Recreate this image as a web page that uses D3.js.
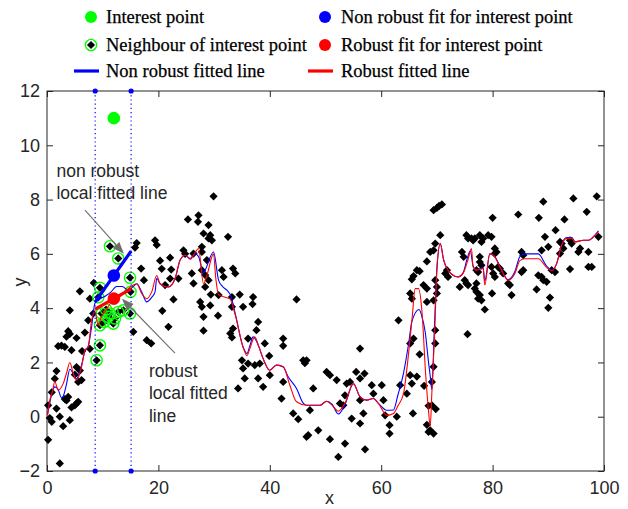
<!DOCTYPE html>
<html>
<head>
<meta charset="utf-8">
<script src="https://cdn.jsdelivr.net/npm/d3@7"></script>
<style>
  body { margin: 0; background: #fff; }
  svg { display: block; }
</style>
</head>
<body>
<div id="chart"></div>
<script>
// scatter data, [x, y]
var scatter = [
  [0.2,0.42],[0.2,-0.85],[0.5,-0.05],[0.85,0.9],[0.85,-0.19],[1.4,1.4],[1.7,1.68],[1.7,0.3],[2.0,2.6],[2.3,0.0],
  [2.3,-1.72],[2.6,2.62],[2.9,-0.35],[3.2,2.57],[3.2,0.65],[3.5,0.6],[3.5,2.95],[3.8,3.15],[3.8,0.73],[4.1,3.05],
  [4.1,3.92],[4.1,-0.13],[4.4,2.45],[4.4,0.34],[5.0,1.55],[5.0,0.42],[5.3,2.9],[5.3,1.83],[5.3,0.49],[5.6,1.28],
  [5.6,0.55],[5.9,4.62],[5.9,1.7],[6.2,1.35],[6.3,2.42],[6.8,3.1],[7.4,3.55],[7.7,2.5],[7.7,4.35],[8.3,3.8],[8.4,4.93],
  [15.5,3.13],[15.8,6.23],[16.1,6.4],[16.9,5.46],[17.4,5.03],[17.9,2.82],[18.7,2.7],[19.4,6.5],[19.7,6.33],[20.3,5.75],
  [20.6,5.45],[20.7,3.9],[21.2,4.85],[21.8,3.31],[22.1,5.86],[22.1,5.09],[22.3,5.42],[22.7,4.32],[23.6,5.09],[24.5,6.13],
  [24.8,6.0],[25.3,7.27],[26.0,5.28],[26.3,4.91],[26.3,6.01],[27.1,7.18],[27.2,7.42],[27.5,4.23],[27.8,4.05],[27.8,5.4],
  [27.8,6.26],[27.8,6.07],[28.1,3.17],[28.1,6.75],[28.1,3.68],[28.4,5.22],[28.4,4.78],[28.7,5.77],[29.0,7.06],[29.0,6.57],
  [29.0,5.03],[29.4,4.5],[29.3,6.69],[29.3,4.1],[29.6,6.5],[29.9,8.12],[30.7,3.72],[30.8,4.48],[31.4,5.4],[31.7,5.15],
  [32.5,6.63],[32.9,3.07],[33.2,2.92],[33.2,4.41],[33.2,4.05],[33.4,3.25],[33.4,5.46],[33.8,5.28],
  [34.3,1.04],[34.6,4.5],[35.0,2.08],[35.2,1.78],[35.2,4.05],[35.5,1.41],[36.1,1.96],[36.1,2.88],[36.9,4.15],[37.0,4.41],
  [37.3,1.9],[37.6,3.19],[37.9,3.49],[37.9,1.41],[38.2,1.96],[38.8,1.1],[39.1,2.7],[39.9,2.24],[40.0,1.53],[42.1,0.67],
  [42.4,1.28],[42.4,2.88],[42.4,2.61],[44.2,0.12],[44.8,4.32],[45.1,-0.09],[46.0,2.08],[46.3,1.97],[46.6,2.08],[46.6,-0.74],
  [46.9,-0.68],
  [47.2,0.24],[47.8,1.04],[48.7,-0.5],[50.2,1.65],[50.8,1.53],[50.8,-0.83],[52.0,1.35],[52.3,-1.48],[52.6,0.49],[53.2,0.42],
  [53.5,0.79],[53.5,-0.99],[53.8,1.22],[54.4,1.28],[54.7,-0.07],[55.5,1.65],[56.2,2.51],[56.2,1.41],[56.2,0.61],[56.2,-0.25],
  [56.8,0.12],[57.0,1.59],[57.1,-1.2],[58.3,1.16],[58.6,0.85],[60.1,1.16],[60.4,0.61],[60.7,0.05],[61.5,-0.31],[61.5,-0.62],
  [62.8,0.0],
  [63.1,3.55],[63.4,1.16],[64.6,0.85],[65.2,1.53],[65.2,2.7],[65.2,4.54],[65.5,4.35],[65.5,5.06],[65.5,1.22],[65.7,0.12],
  [65.8,2.88],[65.8,5.18],[66.4,5.4],[66.4,1.48],[66.9,5.36],[66.9,2.3],[67.6,4.85],[67.7,1.14],[68.2,5.72],[68.2,4.72],
  [68.2,4.23],[68.2,-0.3],[68.5,0.4],[68.5,-0.56],[68.8,6.07],[68.8,-0.5],[69.1,1.28],[69.1,0.42],[69.4,7.61],[69.4,6.13],
  [69.4,4.29],[69.4,-0.62],[69.4,1.84],[69.7,6.38],[69.7,5.03],[69.7,3.19],[69.7,2.7],[69.8,0.28],[70.0,7.69],[70.0,4.78],
  [70.0,4.54],[70.4,7.77],[70.6,6.69],[70.9,7.82],
  [71.5,5.28],[71.8,5.4],[72.0,5.15],[74.1,4.78],[74.5,6.07],[74.8,5.89],[75.0,5.03],[75.3,4.91],[75.3,6.69],[75.5,3.04],
  [75.6,6.57],[75.6,4.85],[76.2,6.57],[76.5,6.5],[76.8,6.57],[76.8,4.72],[77.1,5.4],[77.1,4.91],[77.1,4.6],[77.4,5.33],
  [77.4,4.35],[77.7,6.69],[77.7,5.89],[77.7,5.7],[77.7,4.48],[78.0,6.44],[78.0,5.58],[78.0,4.29],[78.3,6.57],[78.6,3.95],
  [79.2,6.69],[79.8,6.63],[79.8,5.52],[79.9,4.54],[80.0,7.33],[80.1,5.28],[80.4,6.2],[80.4,5.15],[80.4,6.01],[80.7,6.07],
  [81.0,5.52],[81.3,5.46],[81.9,5.28],[82.8,4.91],[83.1,4.85],[83.4,4.48],[84.6,7.45],[85.2,6.07],[85.5,5.95],[85.5,5.4],
  [85.2,5.33],[87.9,4.69],[88.2,5.21],[88.3,7.33],[88.8,6.13],[88.8,5.15],[89.1,7.92],[89.1,5.03],[89.4,6.63],[89.7,4.97],
  [90.0,6.26],[90.0,4.01],[90.3,4.39],[90.6,5.4],[91.2,5.33],[91.3,6.87],[92.1,6.44],[92.4,6.38],[92.7,6.2],[92.1,6.01],
  [92.9,7.27],[93.9,6.5],[93.9,5.44],[94.2,6.38],[94.5,8.04],[95.4,6.07],[95.7,6.2],[96.9,7.55],[97.2,6.07],[97.2,5.52],
  [97.8,5.52],[98.7,8.12],[99.0,6.63]
];

// points inside the local window (drawn with green rings)
var neighbours = [
  [8.9,2.08],[9.5,2.63],[9.5,3.37],[9.8,3.8],[9.5,4.75],[9.2,4.4],[10.3,3.5],[10.6,3.95],[11.0,3.68],[11.3,3.8],
  [11.9,3.43],[12.2,3.62],[12.8,3.86],[13.7,3.92],[14.9,3.8],[15.0,4.6],[14.9,5.12],[11.3,6.28],[12.8,5.83]
];

var interestPoint = [12.0, 11.0];
var windowEdges = [8.65, 15.1];
var nonRobustFitY = 5.2;
var robustFitY = 4.35;
var localNonRobustY = [4.23, 6.1];
var localRobustY = [3.96, 4.71];

var nonRobustLine = [
  [0.1,0.1],[0.5,0.5],[1.0,0.95],[1.4,1.1],[2.0,1.0],[2.6,0.7],[2.9,0.75],[3.5,1.2],[4.1,1.75],[4.7,1.6],
  [5.3,1.4],[6.2,1.9],[6.8,2.4],[7.4,2.6],[8.0,3.3],[8.6,4.18],[9.2,4.3],[10.5,4.45],[11.5,4.6],[12.5,4.8],
  [13.5,4.8],[14.6,4.66],[15.5,4.8],[16.1,4.9],[17.0,4.6],[17.9,4.23],[18.8,4.4],[19.4,4.6],[19.7,5.1],[20.3,4.9],
  [21.8,4.78],[23.0,5.09],[23.9,5.77],[24.8,5.95],[25.7,5.83],[26.6,6.0],[27.2,5.9],[28.1,5.3],[28.4,5.4],[29.9,6.07],
  [30.8,5.03],[31.5,4.8],[32.3,4.66],[33.0,4.45],[33.8,3.8],[35.2,2.57],[35.9,2.33],[36.4,2.6],[37.0,2.94],[38.0,2.6],
  [38.8,2.14],[40.0,1.71],[41.2,1.9],[42.4,1.83],[43.3,1.47],[44.8,1.04],[46.0,0.5],[46.6,0.42],[49.0,0.42],[50.2,0.57],
  [51.2,0.45],[52.3,0.1],[53.5,0.45],[55.0,1.22],[56.2,0.73],[57.4,0.61],[58.6,0.67],[59.5,0.49],[61.0,0.24],[62.2,0.25],
  [63.0,0.8],[64.0,1.6],[65.0,2.8],[65.5,3.5],[66.8,3.95],[67.3,3.7],[67.9,3.12],[68.5,2.0],[68.8,1.5],[69.1,1.0],
  [69.5,3.0],[70.0,5.4],[70.6,6.38],[71.2,5.8],[72.0,5.4],[73.8,5.15],[74.7,5.3],[75.4,5.8],[76.0,6.1],[76.5,5.55],
  [77.1,5.4],[78.3,5.5],[78.6,5.0],[79.5,6.0],[80.4,5.9],[81.3,5.55],[82.8,5.05],[84.0,5.35],[84.9,5.9],[85.8,6.0],
  [88.2,6.0],[89.7,5.55],[90.6,5.4],[91.5,5.64],[92.4,6.35],[93.3,6.6],[94.2,6.6],[94.8,6.45],[96.3,6.5],[97.2,6.5],
  [98.4,6.7],[99.0,6.85]
];

var robustLine = [
  [0.1,0.05],[0.5,0.6],[1.0,0.95],[1.4,1.3],[2.0,0.98],[2.9,1.22],[3.5,1.6],[4.1,2.0],[4.7,1.6],[5.3,1.35],
  [6.2,1.83],[6.8,2.45],[7.4,2.57],[8.0,3.55],[8.6,3.86],[9.2,3.37],[9.8,3.7],[10.5,3.9],[11.5,4.2],[12.5,4.3],
  [13.5,4.5],[14.5,4.7],[15.5,4.85],[16.1,4.9],[17.0,4.54],[17.9,4.35],[18.8,4.6],[19.7,5.2],[20.3,4.9],[21.8,4.78],
  [23.0,5.09],[23.9,5.77],[24.8,5.95],[25.7,5.8],[26.6,6.05],[27.2,6.2],[28.1,4.9],[28.7,5.2],[29.9,6.0],[30.3,5.1],
  [30.8,4.5],[32.0,4.4],[32.8,4.35],[33.8,3.74],[35.2,2.57],[35.9,2.25],[36.4,2.5],[37.3,2.94],[38.0,2.6],[38.8,2.14],
  [40.0,1.71],[41.2,1.9],[42.4,1.85],[43.6,1.16],[44.8,0.55],[46.6,0.42],[49.0,0.42],[50.2,0.57],[51.2,0.42],[52.3,0.2],
  [53.5,0.5],[55.0,1.22],[56.2,0.73],[57.4,0.61],[58.6,0.67],[59.5,0.49],[61.0,0.05],[62.2,0.12],[63.0,0.4],[64.0,0.85],
  [65.0,2.5],[65.6,3.74],[66.1,4.72],[66.7,4.72],[67.3,3.92],[68.0,1.5],[68.5,0.2],[68.8,-0.35],[69.1,0.9],[69.7,3.68],
  [70.0,5.52],[70.6,6.38],[71.2,5.77],[72.0,5.4],[73.8,5.15],[74.7,5.28],[75.6,5.8],[76.2,6.2],[76.5,5.52],[77.1,5.4],
  [78.3,5.46],[78.6,4.85],[79.5,6.01],[80.4,5.89],[81.3,5.52],[82.8,5.03],[84.0,5.28],[84.9,5.75],[85.8,5.82],[88.2,5.82],
  [89.7,5.5],[90.6,5.38],[91.5,5.64],[92.4,6.32],[93.3,6.57],[94.2,6.57],[94.8,6.44],[96.3,6.5],[97.2,6.5],[98.4,6.69],
  [99.0,6.81]
];

var xTicks = [0, 20, 40, 60, 80, 100];
var yTicks = [-2, 0, 2, 4, 6, 8, 10, 12];

var legendItems = [
  {label: 'Interest point', kind: 'dot', color: '#00ff00', col: 0, row: 0},
  {label: 'Non robust fit for interest point', kind: 'dot', color: '#0000ff', col: 1, row: 0},
  {label: 'Neighbour of interest point', kind: 'ring', color: '#00ff00', col: 0, row: 1},
  {label: 'Robust fit for interest point', kind: 'dot', color: '#ff0000', col: 1, row: 1},
  {label: 'Non robust fitted line', kind: 'line', color: '#0000ff', col: 0, row: 2},
  {label: 'Robust fitted line', kind: 'line', color: '#ff0000', col: 1, row: 2}
];

var W = 628, H = 509;
var axisColor = '#262626';
var tickFont = '"Liberation Sans", Arial, Helvetica, sans-serif';

var svg = d3.select('#chart').append('svg')
    .attr('width', W)
    .attr('height', H);

var x = d3.scaleLinear().domain([0, 100]).range([47, 604]);
var y = d3.scaleLinear().domain([-2, 12]).range([471, 91]);

// ---- axes (ticks inside, on all four sides)
function styleAxis(g, showText) {
    g.select('.domain').remove();
    g.selectAll('.tick line').attr('stroke', axisColor);
    g.selectAll('.tick text')
        .attr('fill', axisColor)
        .style('font-family', tickFont)
        .style('font-size', '18px');
    if (!showText) g.selectAll('.tick text').remove();
}

svg.append('g')
    .attr('transform', 'translate(0,' + y(-2) + ')')
    .call(d3.axisBottom(x).tickValues(xTicks).tickSize(-6).tickPadding(10))
    .call(styleAxis, true);
svg.append('g')
    .attr('transform', 'translate(0,' + y(12) + ')')
    .call(d3.axisTop(x).tickValues(xTicks).tickSize(-6))
    .call(styleAxis, false);
svg.append('g')
    .attr('transform', 'translate(' + x(0) + ',0)')
    .call(d3.axisLeft(y).tickValues(yTicks).tickSize(-6).tickPadding(7))
    .call(styleAxis, true);
svg.append('g')
    .attr('transform', 'translate(' + x(100) + ',0)')
    .call(d3.axisRight(y).tickValues(yTicks).tickSize(-6))
    .call(styleAxis, false);

svg.append('rect')
    .attr('x', x(0)).attr('y', y(12))
    .attr('width', x(100) - x(0)).attr('height', y(-2) - y(12))
    .attr('fill', 'none')
    .attr('stroke', axisColor)
    .attr('stroke-width', 1);

svg.append('text')
    .attr('x', (x(0) + x(100)) / 2 + 4).attr('y', 504)
    .attr('text-anchor', 'middle')
    .attr('fill', axisColor)
    .style('font-family', tickFont).style('font-size', '18px')
    .text('x');
svg.append('text')
    .attr('transform', 'translate(26,' + ((y(-2) + y(12)) / 2 + 1) + ') rotate(-90)')
    .attr('text-anchor', 'middle')
    .attr('fill', axisColor)
    .style('font-family', tickFont).style('font-size', '18px')
    .text('y');

// ---- scatter
var diamond = d3.symbol().type(d3.symbolSquare).size(34);

var plot = svg.append('g');

plot.selectAll('.pt')
    .data(scatter.concat(neighbours))
    .enter()
    .append('path')
    .attr('class', 'pt')
    .attr('d', diamond)
    .attr('transform', function (d) {
        return 'translate(' + x(d[0]) + ',' + y(d[1]) + ') rotate(45)';
    })
    .attr('fill', '#000');

plot.selectAll('.ring')
    .data(neighbours)
    .enter()
    .append('circle')
    .attr('class', 'ring')
    .attr('cx', function (d) { return x(d[0]); })
    .attr('cy', function (d) { return y(d[1]); })
    .attr('r', 5.6)
    .attr('fill', 'none')
    .attr('stroke', '#00ff00')
    .attr('stroke-width', 1.4);

// ---- fitted lines
var line = d3.line()
    .x(function (d) { return x(d[0]); })
    .y(function (d) { return y(d[1]); })
    .curve(d3.curveMonotoneX);

plot.append('path')
    .attr('d', line(nonRobustLine))
    .attr('fill', 'none')
    .attr('stroke', '#0000ff')
    .attr('stroke-width', 1.1);
plot.append('path')
    .attr('d', line(robustLine))
    .attr('fill', 'none')
    .attr('stroke', '#ff0000')
    .attr('stroke-width', 1.1);

// ---- local window
windowEdges.forEach(function (xe) {
    plot.append('line')
        .attr('x1', x(xe)).attr('x2', x(xe))
        .attr('y1', y(12)).attr('y2', y(-2))
        .attr('stroke', '#0000ff')
        .attr('stroke-width', 1.2)
        .attr('stroke-dasharray', '1.2,3');
    [12, -2].forEach(function (ye) {
        plot.append('circle')
            .attr('cx', x(xe)).attr('cy', y(ye))
            .attr('r', 2.6)
            .attr('fill', '#0000ff');
    });
});

var straight = d3.line()
    .x(function (d) { return x(d[0]); })
    .y(function (d) { return y(d[1]); });

plot.append('path')
    .attr('d', straight(windowEdges.map(function (xe, i) { return [xe, localNonRobustY[i]]; })))
    .attr('stroke', '#0000ff')
    .attr('stroke-width', 3.2)
    .attr('fill', 'none');
plot.append('path')
    .attr('d', straight(windowEdges.map(function (xe, i) { return [xe, localRobustY[i]]; })))
    .attr('stroke', '#ff0000')
    .attr('stroke-width', 3.2)
    .attr('fill', 'none');

plot.append('circle')
    .attr('cx', x(interestPoint[0])).attr('cy', y(nonRobustFitY))
    .attr('r', 6.3).attr('fill', '#0000ff');
plot.append('circle')
    .attr('cx', x(interestPoint[0])).attr('cy', y(robustFitY))
    .attr('r', 6.3).attr('fill', '#ff0000');
plot.append('circle')
    .attr('cx', x(interestPoint[0])).attr('cy', y(interestPoint[1]))
    .attr('r', 6.3).attr('fill', '#00ff00');

// ---- annotations
function arrow(from, to) {
    var x1 = x(from[0]), y1 = y(from[1]), x2 = x(to[0]), y2 = y(to[1]);
    var a = Math.atan2(y2 - y1, x2 - x1);
    var len = 12, half = 4.5;
    var bx = x2 - len * Math.cos(a), by = y2 - len * Math.sin(a);
    plot.append('line')
        .attr('x1', x1).attr('y1', y1).attr('x2', bx).attr('y2', by)
        .attr('stroke', '#6e6e6e').attr('stroke-width', 1.1);
    plot.append('path')
        .attr('d', 'M' + x2 + ',' + y2 +
            'L' + (bx + half * Math.sin(a)) + ',' + (by - half * Math.cos(a)) +
            'L' + (bx - half * Math.sin(a)) + ',' + (by + half * Math.cos(a)) + 'Z')
        .attr('fill', '#6e6e6e');
}
arrow([6.82, 7.61], [13.82, 6.0]);
arrow([22.98, 2.34], [13.46, 4.35]);

function note(lines, x0, yBase, step) {
    var t = plot.append('text')
        .attr('fill', '#262626')
        .style('font-family', tickFont)
        .style('font-size', '17.5px');
    lines.forEach(function (s, i) {
        t.append('tspan').attr('x', x(x0)).attr('y', yBase + i * step).text(s);
    });
}
note(['non robust', 'local fitted line'], 1.7, 176.5, 22);
note(['robust', 'local fitted', 'line'], 18.3, 376.5, 22.5);

// ---- legend
var legendFont = '"Liberation Serif", "Times New Roman", Times, serif';
var colMarkX = [91, 325], colTextX = [106, 341];
var rowY = [17, 45, 71];

var legend = svg.selectAll('.legend')
    .data(legendItems)
    .enter()
    .append('g')
    .attr('class', 'legend')
    .attr('transform', function (d) {
        return 'translate(0,' + rowY[d.row] + ')';
    });

legend.each(function (d) {
    var g = d3.select(this), mx = colMarkX[d.col];
    if (d.kind === 'dot') {
        g.append('circle').attr('cx', mx).attr('cy', 0).attr('r', 6).attr('fill', d.color);
    } else if (d.kind === 'ring') {
        g.append('path').attr('d', diamond)
            .attr('transform', 'translate(' + mx + ',0) rotate(45)')
            .attr('fill', '#000');
        g.append('circle').attr('cx', mx).attr('cy', 0).attr('r', 5.6)
            .attr('fill', 'none').attr('stroke', d.color).attr('stroke-width', 1.4);
    } else {
        g.append('line').attr('x1', mx - 17).attr('x2', mx + 8)
            .attr('y1', 0).attr('y2', 0)
            .attr('stroke', d.color).attr('stroke-width', 3.2);
    }
    g.append('text')
        .attr('x', colTextX[d.col])
        .attr('y', 6)
        .attr('fill', '#000')
        .attr('stroke', '#000')
        .attr('stroke-width', 0.25)
        .style('font-family', legendFont)
        .style('font-size', '18.5px')
        .text(d.label);
});
</script>
</body>
</html>
